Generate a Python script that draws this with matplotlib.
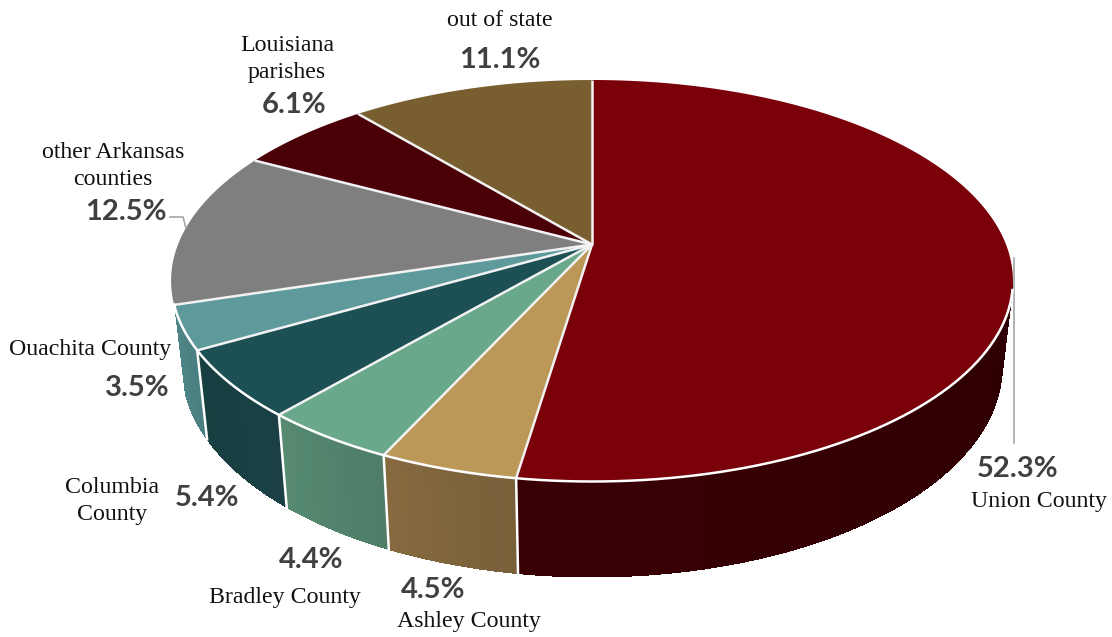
import numpy as np
import matplotlib
matplotlib.use("Agg")
import matplotlib.pyplot as plt
from matplotlib.patches import Polygon

# datos del grafico
nombres = ["Union County", "Ashley County", "Bradley County", "Columbia\nCounty",
           "Ouachita County", "other Arkansas\ncounties", "Louisiana\nparishes", "out of state"]
valores = [52.3, 4.5, 4.4, 5.4, 3.5, 12.5, 6.1, 11.1]
colores = ["#7a0009", "#bb9858", "#69a88b", "#1d5055", "#5e9a9c", "#7f7f7f", "#4a0006", "#795f30"]
# color del lado: extremo derecho e izquierdo de cada porcion
lado_der = ["#2e0003", "#78603a", "#4f7d68", "#1a4045", "#4a7f81", "#7f7f7f", "#4a0006", "#795f30"]
lado_izq = ["#380004", "#86693f", "#568a71", "#163f40", "#4e8587", "#7f7f7f", "#4a0006", "#795f30"]

# geometria de la proyeccion (en pixeles)
XC, YC = 592.0, 244.5
RX, RY = 414.0, 194.2
K = 0.1806
ENCOGE = 0.975
ANG_DER, ANG_IZQ = 101.0, 252.0


def arriba(ang):
    a = np.radians(ang)
    w = 1 + K * np.cos(a)
    return XC + RX * np.sin(a) / w, YC - RY * np.cos(a) / w


def abajo(ang):
    x, y = arriba(ang)
    v = np.cos(np.radians(ang))
    return XC + ENCOGE * (x - XC), y + 82.5 - 13 * v


def mezcla(c1, c2, t):
    a = np.array(matplotlib.colors.to_rgb(c1))
    b = np.array(matplotlib.colors.to_rgb(c2))
    return a + (b - a) * t


fig = plt.figure(figsize=(11.12, 6.37), dpi=100)
ax = fig.add_axes([0, 0, 1, 1])
ax.set_xlim(0, 1112)
ax.set_ylim(637, 0)
ax.axis("off")

total = sum(valores)
bordes = np.concatenate([[0], np.cumsum(valores)]) / total * 360

# caras laterales
for i in range(len(valores)):
    a0 = max(bordes[i], ANG_DER)
    a1 = min(bordes[i + 1], ANG_IZQ)
    if a1 <= a0:
        continue
    # silueta suave debajo, tiras sin antialias encima para el degradado
    aa = np.linspace(a0, a1, 200)
    xs, ys = arriba(aa)
    xb, yb = abajo(aa)
    pts = np.column_stack([np.r_[xs, xb[::-1]], np.r_[ys, yb[::-1]]])
    ax.add_patch(Polygon(pts, closed=True, fc=mezcla(lado_der[i], lado_izq[i], 0.5), ec="none", zorder=2))

    pasos = np.linspace(a0, a1, int(a1 - a0) + 2)
    for j in range(len(pasos) - 1):
        t = j / max(len(pasos) - 2, 1)
        c = mezcla(lado_der[i], lado_izq[i], t)
        aa = np.linspace(pasos[j], pasos[j + 1], 6)
        xs, ys = arriba(aa)
        xb, yb = abajo(aa)
        pts = np.column_stack([np.r_[xs, xb[::-1]], np.r_[ys, yb[::-1]]])
        ax.add_patch(Polygon(pts, closed=True, fc=c, ec="none", antialiased=False, zorder=2.5))
    # separador vertical
    if i > 0:
        xs, ys = arriba(bordes[i])
        xb, yb = abajo(bordes[i])
        ax.plot([xs, xb], [ys, yb], color="white", lw=1.8, zorder=3)

# cara superior
for i in range(len(valores)):
    aa = np.linspace(bordes[i], bordes[i + 1], 200)
    xs, ys = arriba(aa)
    pts = np.column_stack([np.r_[XC, xs], np.r_[YC, ys]])
    ax.add_patch(Polygon(pts, closed=True, fc=colores[i], ec="none", zorder=4))

for i in range(len(valores)):
    xs, ys = arriba(bordes[i])
    ax.plot([XC, xs], [YC, ys], color="#f2f2f2", lw=1.8, zorder=5, solid_capstyle="butt")

# borde blanco del frente
aa = np.linspace(ANG_DER + 2, ANG_IZQ + 1, 400)
xs, ys = arriba(aa)
ax.plot(xs, ys, color="white", lw=1.8, zorder=5)

# lineas guia
ax.plot([1014, 1014], [258, 443], color="#a6a6a6", lw=1.2, zorder=3.5)
ax.plot([170, 183, 186], [217, 217, 228], color="#a6a6a6", lw=1.2, zorder=6)

# etiquetas: x, y del nombre y x, y del porcentaje
pos_nombre = [(1039, 501), (469, 622), (285, 597), (112, 501),
              (90, 350), (113, 166), (287, 59), (500, 20)]
pos_pct = [(1018, 469), (433, 590), (311, 560), (207, 498),
           (137, 388), (126, 212), (294, 105), (500, 60)]

for i in range(len(valores)):
    ax.text(pos_nombre[i][0], pos_nombre[i][1], nombres[i], family="Liberation Serif", fontsize=17.2,
            color="#111111", ha="center", va="center", linespacing=1.35, zorder=7)
    ax.text(pos_pct[i][0], pos_pct[i][1], f"{valores[i]:.1f}%", family="Lato", fontweight="bold",
            fontsize=21, color="#404040", ha="center", va="center", zorder=7)

fig.savefig("out.png", dpi=100)
